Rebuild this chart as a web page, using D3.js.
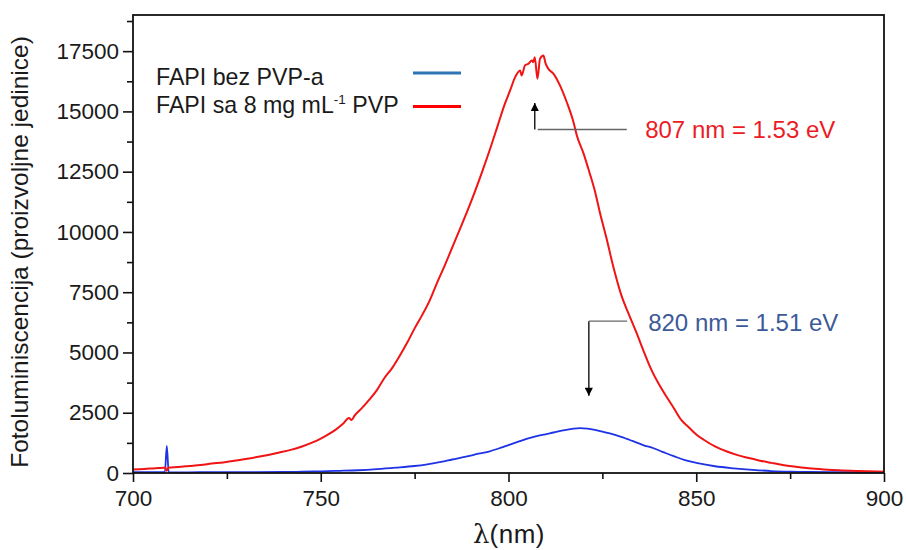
<!DOCTYPE html>
<html><head><meta charset="utf-8">
<script src="https://cdn.jsdelivr.net/npm/d3@7/dist/d3.min.js"></script>
<style>
html,body{margin:0;padding:0;background:#fff;}
text{font-family:"Liberation Sans",Arial,sans-serif;}
</style></head>
<body><svg id="c" width="906" height="550"></svg>
<script>
// ---- data ----
const redWavelength = [700,703,706,708,708.6,709,709.5,712,715,718,721,724,727,730,733,736,739,742,745,748,750,752,754,756,757.5,758.2,759,761,763,765,767,769,771,773,775,777,779,781,783,785,787,789,791,793,795,797,799,800.5,801.7,803.1,803.5,804.4,805.3,806.2,806.6,807,807.7,808.4,809.3,809.9,810.6,812,813.7,815.5,817.3,818.2,820,821.5,823,824.5,826,828,830,832,834,836,838,840,842,844,846,848,850,852,855,858,861,864,867,870,873,876,880,884,888,893,900];
const redIntensity  = [150,170,200,215,225,90,225,250,290,330,390,440,510,580,660,750,850,960,1100,1280,1430,1600,1800,2050,2280,2200,2380,2700,3050,3450,3950,4350,4850,5400,6000,6550,7150,7900,8600,9350,10100,10850,11650,12500,13400,14350,15300,15900,16400,16700,16490,16910,16980,17110,17045,17250,16360,17190,17320,16980,16770,16560,16080,15390,14560,14000,13250,12500,11700,10700,9800,8500,7400,6600,5850,5050,4300,3700,3180,2700,2200,1900,1600,1380,1100,900,740,620,510,420,335,270,200,150,110,80,55];

const blueWavelength = [700,705,708.5,709,709.5,715,720,730,740,745,750,755,760,765,770,775,778,782,785,789,792,795,798,800,803,806,809,812,815,817,819,821,823,825,827,830,833,836,838,841,844,847,850,855,860,865,870,875,880,890,900];
const blueIntensity  = [40,35,40,1120,40,30,35,35,45,54,70,90,115,160,220,290,350,460,560,690,800,900,1050,1160,1320,1470,1580,1680,1780,1830,1860,1840,1790,1720,1640,1500,1330,1150,1060,880,700,530,420,280,195,130,80,55,45,35,30];

const seriesNames = ["FAPI bez PVP-a", "FAPI sa 8 mg mL", "-1", " PVP"];
const xTicks = [700,750,800,850,900];
const xMinorTicks = [725,775,825,875];
const yTicks = [0,2500,5000,7500,10000,12500,15000,17500];
const yMinorTicks = [1250,3750,6250,8750,11250,13750,16250,18750];
const xDomain = [700,900];
const yDomain = [0,19000];
const peakRed = {nm:807, label:"807 nm = 1.53 eV"};
const peakBlue = {nm:821.4, label:"820 nm = 1.51 eV"};

// ---- layout ----
const L=133, R=884, T=15, B=473;
const svg=d3.select("#c");
const x=d3.scaleLinear().domain(xDomain).range([L,R]);
const y=d3.scaleLinear().domain(yDomain).range([B,T]);

// curves
const line=d3.line().x(d=>x(d[0])).y(d=>y(d[1])).curve(d3.curveMonotoneX);
svg.append("path").datum(blueWavelength.map((w,i)=>[w,blueIntensity[i]]))
  .attr("d",line).attr("fill","none").attr("stroke","#1e32e6").attr("stroke-width",1.8);
svg.append("path").datum(redWavelength.map((w,i)=>[w,redIntensity[i]]))
  .attr("d",line).attr("fill","none").attr("stroke","#f01414").attr("stroke-width",2);

// axes
const fs=22.5;
svg.append("g").attr("transform",`translate(0,${B})`)
  .call(d3.axisBottom(x).tickValues(xTicks).tickSize(9).tickPadding(8).tickFormat(d3.format("d")));
svg.append("g").attr("transform",`translate(0,${B})`)
  .call(d3.axisBottom(x).tickValues(xMinorTicks).tickSize(6).tickFormat(""));
svg.append("g").attr("transform",`translate(${L},0)`)
  .call(d3.axisLeft(y).tickValues(yTicks).tickSize(10).tickPadding(4).tickFormat(d3.format("d")));
svg.append("g").attr("transform",`translate(${L},0)`)
  .call(d3.axisLeft(y).tickValues(yMinorTicks).tickSize(6).tickFormat(""));
svg.selectAll(".domain").remove();
svg.selectAll(".tick line").attr("stroke","#111").attr("stroke-width",1.6);
svg.selectAll(".tick text").attr("font-size",fs).attr("fill","#1a1a1a").attr("font-family","Liberation Sans, Arial, sans-serif");
// frame
svg.append("rect").attr("x",L).attr("y",T).attr("width",R-L).attr("height",B-T)
  .attr("fill","none").attr("stroke","#111").attr("stroke-width",1.8);

// axis titles
svg.append("text").attr("transform",`translate(28,${(T+B)/2+8}) rotate(-90)`)
  .attr("text-anchor","middle").attr("font-size",24.5).attr("fill","#1a1a1a")
  .text("Fotoluminiscencija (proizvoljne jedinice)");
const xl=svg.append("text").attr("x",509).attr("y",543).attr("text-anchor","middle")
  .attr("font-size",26).attr("fill","#1a1a1a");
xl.append("tspan").attr("font-family","DejaVu Serif, serif").text("λ");
xl.append("tspan").attr("letter-spacing",0.5).text("(nm)");

// legend
const lg=svg.append("g");
lg.append("text").attr("x",156).attr("y",84.5).attr("font-size",23.2).attr("fill","#1a1a1a").text(seriesNames[0]);
const t2=lg.append("text").attr("x",156).attr("y",112.5).attr("font-size",23.2).attr("fill","#1a1a1a");
t2.append("tspan").text(seriesNames[1]);
t2.append("tspan").attr("font-size",13.5).attr("dy",-9).text(seriesNames[2]);
t2.append("tspan").attr("dy",9).text(seriesNames[3]);
lg.append("line").attr("x1",413).attr("x2",461).attr("y1",73).attr("y2",73).attr("stroke","#2e75b6").attr("stroke-width",3);
lg.append("line").attr("x1",413).attr("x2",461).attr("y1",106.5).attr("y2",106.5).attr("stroke","#ff0000").attr("stroke-width",3);

// annotations
const defs=svg.append("defs");
defs.append("marker").attr("id","ah").attr("viewBox","0 0 10 10").attr("refX",10).attr("refY",5)
  .attr("markerWidth",12).attr("markerHeight",8).attr("markerUnits","userSpaceOnUse").attr("orient","auto")
  .append("path").attr("d","M0,0 L10,5 L0,10 Z").attr("fill","#000");
// red peak
svg.append("line").attr("x1",x(peakRed.nm)).attr("x2",x(peakRed.nm)).attr("y1",y(14250)).attr("y2",y(15350))
  .attr("stroke","#000").attr("stroke-width",1.3).attr("marker-end","url(#ah)");
svg.append("line").attr("x1",x(peakRed.nm)+3).attr("x2",x(831.5)).attr("y1",y(14250)).attr("y2",y(14250))
  .attr("stroke","#666").attr("stroke-width",1.3);
svg.append("text").attr("x",x(836.4)).attr("y",y(13900)).attr("font-size",24).attr("fill","#ec1c24").text(peakRed.label);
// blue peak
svg.append("line").attr("x1",x(peakBlue.nm)).attr("x2",x(peakBlue.nm)).attr("y1",y(6300)).attr("y2",y(3200))
  .attr("stroke","#000").attr("stroke-width",1.3).attr("marker-end","url(#ah)");
svg.append("line").attr("x1",x(peakBlue.nm)).attr("x2",x(831.6)).attr("y1",y(6300)).attr("y2",y(6300))
  .attr("stroke","#666").attr("stroke-width",1.3);
svg.append("text").attr("x",x(837.2)).attr("y",y(5900)).attr("font-size",24).attr("fill","#3c5a98").text(peakBlue.label);
</script></body></html>
